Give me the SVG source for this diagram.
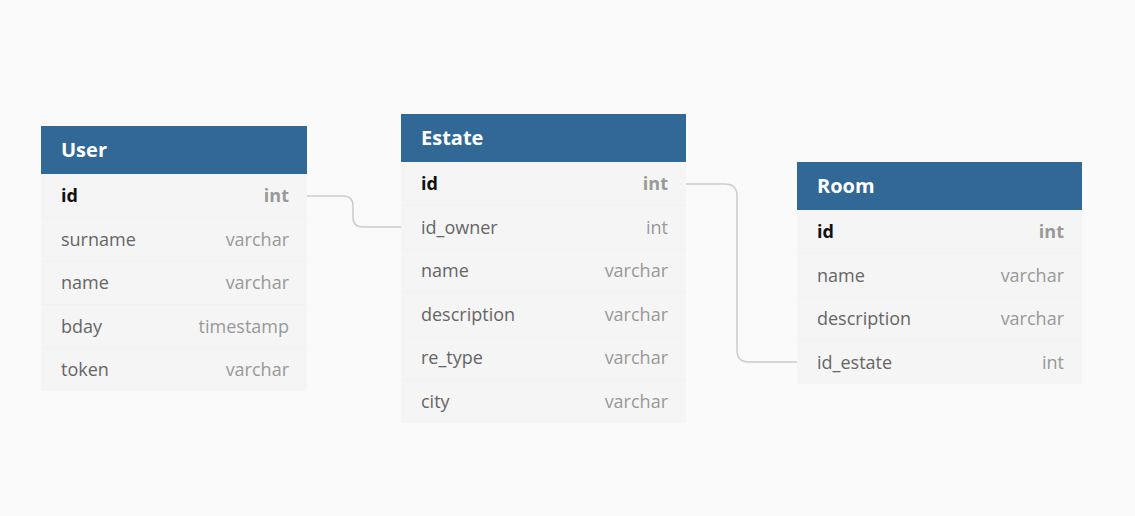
<svg xmlns="http://www.w3.org/2000/svg" width="1135" height="516" viewBox="0 0 1135 516">
<style>
.bg{fill:#fafafa}
.hd{fill:#316896}
.bd{fill:#f5f5f5}
.sep{stroke:#f2f2f2;stroke-width:1}
.title{font-family:"Open Sans",sans-serif;font-size:20px;font-weight:700;fill:#ffffff}
.fn{font-family:"Open Sans",sans-serif;font-size:18px;fill:#666666}
.ft{font-family:"Open Sans",sans-serif;font-size:18px;fill:#999999;text-anchor:end}
.pk{font-weight:700;fill:#111111}
.pkt{font-weight:700;fill:#999999}
.conn{fill:none;stroke:#cccccc;stroke-width:1.5}
</style>
<rect class="bg" x="0" y="0" width="1135" height="516"/>
<g id="connectors">
<path class="conn" d="M307 196 H343 Q353 196 353 206 V217 Q353 227 363 227 H401"/>
<path class="conn" d="M686 184 H725 Q737 184 737 196 V350 Q737 362 749 362 H797"/>
</g>
<g id="User">
<rect class="hd" x="41" y="126" width="266" height="48"/>
<rect class="bd" x="41" y="174" width="266" height="217"/>
<line class="sep" x1="41" y1="217.5" x2="307" y2="217.5"/>
<line class="sep" x1="41" y1="261" x2="307" y2="261"/>
<line class="sep" x1="41" y1="304.5" x2="307" y2="304.5"/>
<line class="sep" x1="41" y1="348" x2="307" y2="348"/>
<text class="title" x="61" y="157">User</text>
<text class="fn pk" x="61" y="202">id</text><text class="ft pkt" x="289" y="202">int</text>
<text class="fn" x="61" y="246">surname</text><text class="ft" x="289" y="246">varchar</text>
<text class="fn" x="61" y="289">name</text><text class="ft" x="289" y="289">varchar</text>
<text class="fn" x="61" y="333">bday</text><text class="ft" x="289" y="333">timestamp</text>
<text class="fn" x="61" y="376">token</text><text class="ft" x="289" y="376">varchar</text>
</g>
<g id="Estate">
<rect class="hd" x="401" y="114" width="285" height="48"/>
<rect class="bd" x="401" y="162" width="285" height="261"/>
<line class="sep" x1="401" y1="205.5" x2="686" y2="205.5"/>
<line class="sep" x1="401" y1="249" x2="686" y2="249"/>
<line class="sep" x1="401" y1="292.5" x2="686" y2="292.5"/>
<line class="sep" x1="401" y1="336" x2="686" y2="336"/>
<line class="sep" x1="401" y1="379.5" x2="686" y2="379.5"/>
<text class="title" x="421" y="145">Estate</text>
<text class="fn pk" x="421" y="190">id</text><text class="ft pkt" x="668" y="190">int</text>
<text class="fn" x="421" y="234">id_owner</text><text class="ft" x="668" y="234">int</text>
<text class="fn" x="421" y="277">name</text><text class="ft" x="668" y="277">varchar</text>
<text class="fn" x="421" y="321">description</text><text class="ft" x="668" y="321">varchar</text>
<text class="fn" x="421" y="364">re_type</text><text class="ft" x="668" y="364">varchar</text>
<text class="fn" x="421" y="408">city</text><text class="ft" x="668" y="408">varchar</text>
</g>
<g id="Room">
<rect class="hd" x="797" y="162" width="285" height="48"/>
<rect class="bd" x="797" y="210" width="285" height="174"/>
<line class="sep" x1="797" y1="253.5" x2="1082" y2="253.5"/>
<line class="sep" x1="797" y1="297" x2="1082" y2="297"/>
<line class="sep" x1="797" y1="340.5" x2="1082" y2="340.5"/>
<text class="title" x="817" y="193">Room</text>
<text class="fn pk" x="817" y="238">id</text><text class="ft pkt" x="1064" y="238">int</text>
<text class="fn" x="817" y="282">name</text><text class="ft" x="1064" y="282">varchar</text>
<text class="fn" x="817" y="325">description</text><text class="ft" x="1064" y="325">varchar</text>
<text class="fn" x="817" y="369">id_estate</text><text class="ft" x="1064" y="369">int</text>
</g>
</svg>
